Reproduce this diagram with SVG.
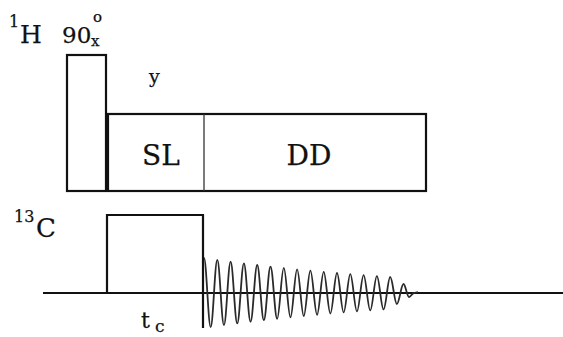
<svg xmlns="http://www.w3.org/2000/svg" width="563" height="337" viewBox="0 0 563 337">
<style>
.box{fill:none;stroke:#111;stroke-width:2.2}
.t{font-family:"DejaVu Serif","Liberation Serif",serif;fill:#111;stroke:#111;stroke-width:0.25}
.fid{fill:none;stroke:#2a2a2a;stroke-width:1.8;stroke-linejoin:round}
</style>
<rect width="563" height="337" fill="#fff"/>
<g id="label-1H"><text class="t" x="9" y="27" font-size="16">1</text><text class="t" x="20" y="43" font-size="25">H</text></g>
<g id="label-90x"><text class="t" x="62" y="43" font-size="23">90</text><text class="t" x="93" y="22" font-size="15">o</text><text class="t" x="91" y="46" font-size="15">x</text></g>
<g id="label-y"><text class="t" x="149" y="83" font-size="19">y</text></g>
<g id="pulse-90"><rect class="box" x="67" y="55" width="39" height="136"/></g>
<g id="block-SL-DD"><rect class="box" x="108" y="114" width="318" height="77"/><line x1="204" y1="114" x2="204" y2="191" stroke="#333" stroke-width="1.3"/>
<text class="t" x="161" y="165" font-size="28" text-anchor="middle">SL</text>
<text class="t" x="309" y="165" font-size="28" text-anchor="middle">DD</text></g>
<g id="label-13C"><text class="t" x="14" y="222" font-size="16">13</text><text class="t" x="36" y="237" font-size="26">C</text></g>
<g id="pulse-13C"><polyline class="box" points="107,293 107,215 203,215 203,328"/></g>
<g id="label-tc"><text class="t" x="141" y="328" font-size="22">t</text><text class="t" x="155" y="332" font-size="17">c</text></g>
<g id="connectors">
<line x1="43" y1="293" x2="563" y2="293" stroke="#111" stroke-width="2.2"/>
<path class="fid" d="M204,258 C206.42,258 208.23,327.04 210.65,327.04 C213.07,327.04 214.88,259.9 217.3,259.9 C219.72,259.9 221.53,325.19 223.95,325.19 C226.37,325.19 228.18,261.7 230.6,261.7 C233.02,261.7 234.83,323.44 237.25,323.44 C239.67,323.44 241.48,263.4 243.9,263.4 C246.32,263.4 248.13,321.78 250.55,321.78 C252.97,321.78 254.78,265.01 257.2,265.01 C259.62,265.01 261.43,320.22 263.85,320.22 C266.27,320.22 268.08,266.53 270.5,266.53 C272.92,266.53 274.73,318.74 277.15,318.74 C279.57,318.74 281.38,267.97 283.8,267.97 C286.22,267.97 288.03,317.34 290.45,317.34 C292.87,317.34 294.68,269.33 297.1,269.33 C299.52,269.33 301.33,316.02 303.75,316.02 C306.17,316.02 307.98,270.62 310.4,270.62 C312.82,270.62 314.63,314.77 317.05,314.77 C319.47,314.77 321.28,271.83 323.7,271.83 C326.12,271.83 327.93,313.58 330.35,313.58 C332.77,313.58 334.58,272.98 337,272.98 C339.42,272.98 341.23,312.47 343.65,312.47 C346.07,312.47 347.88,274.07 350.3,274.07 C352.72,274.07 354.53,311.41 356.95,311.41 C359.37,311.41 361.18,275.1 363.6,275.1 C366.02,275.1 367.83,310.41 370.25,310.41 C372.67,310.41 374.48,276.07 376.9,276.07 C379.32,276.07 381.13,309.46 383.55,309.46 C385.97,309.46 387.78,276.99 390.2,276.99 C392.62,276.99 394.43,304 396.85,304 C399.27,304 401.08,284 403.5,284 C405.5,284 407,297 409,297 C411,297 412,293 414,293 L418,292"/>
</g>
</svg>
